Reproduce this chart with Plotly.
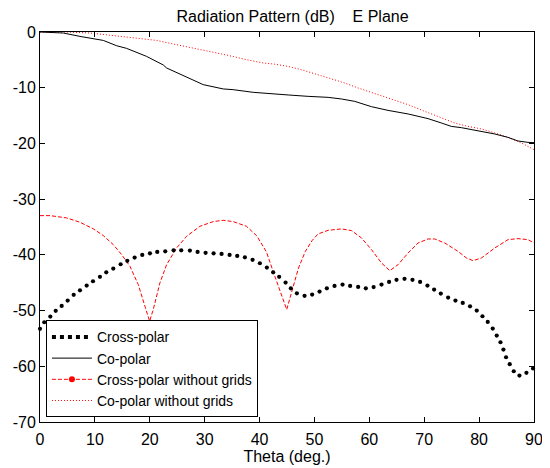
import plotly.graph_objects as go

# ---- data ----
# Cross-polar (black dotted, one value per visible dot)
cross_theta = [0.0, 0.78, 1.88, 2.86, 3.95, 5.04, 6.14, 7.28, 8.50, 9.65, 10.92, 12.07, 13.35, 14.69,
               15.90, 17.24, 18.63, 20.03, 21.36, 22.82, 24.34, 25.73, 27.31, 28.71, 30.17, 31.63,
               33.08, 34.54, 35.93, 37.33, 38.73, 40.06, 41.33, 42.48, 43.57, 44.74, 45.70, 46.80,
               48.20, 49.58, 50.93, 52.26, 53.66, 55.12, 56.50, 57.96, 59.36, 60.78, 62.22, 63.60,
               64.95, 66.41, 67.86, 69.25, 70.59, 71.80, 73.02, 74.35, 75.69, 77.02, 78.35, 79.57,
               80.61, 81.57, 82.48, 83.21, 83.89, 84.43, 84.91, 85.58, 86.31, 87.35, 88.62, 89.82]
cross_db = [-53.28, -52.10, -51.08, -50.05, -49.16, -48.21, -47.18, -46.36, -45.51, -44.74, -43.95,
            -43.13, -42.46, -41.69, -41.08, -40.49, -40.01, -39.72, -39.47, -39.36, -39.18, -39.18,
            -39.24, -39.47, -39.63, -39.72, -39.83, -40.01, -40.19, -40.44, -40.90, -41.51, -42.29,
            -43.13, -43.95, -44.98, -46.00, -46.90, -47.36, -47.13, -46.59, -46.00, -45.57, -45.34,
            -45.57, -45.75, -46.00, -45.78, -45.34, -44.85, -44.49, -44.31, -44.49, -44.85, -45.51,
            -46.23, -46.95, -47.67, -48.21, -48.62, -49.23, -50.00, -51.02, -52.03, -53.23, -54.49,
            -55.69, -57.00, -58.38, -59.63, -60.89, -61.66, -61.18, -60.40]

# Co-polar (black solid)
co_theta = [0, 4.25, 7.28, 11.53, 13.96, 15.78, 19.42, 22.46, 23.07, 26.1, 29.74, 33.38, 35.2, 38.85,
            42.49, 45.21, 48.85, 52.49, 54.92, 57.34, 60.38, 63.41, 67.06, 70.70, 73.12, 74.94,
            76.76, 79.19, 82.83, 85.26, 87.08, 88.90, 90.0]
co_db = [0, -0.18, -0.79, -1.51, -2.46, -2.94, -4.38, -5.92, -6.46, -7.84, -9.45, -10.22, -10.35,
         -10.83, -11.15, -11.30, -11.55, -11.73, -12.02, -12.45, -13.40, -14.07, -14.71, -15.55,
         -16.33, -16.94, -17.17, -17.59, -18.30, -18.91, -19.56, -19.81, -19.86]

# Cross-polar without grids (red dashed)
xng_theta = [0, 1.82, 4.86, 7.28, 9.71, 11.53, 13.35, 14.87, 16.39, 17.90, 19.12, 19.97, 20.63, 21.85,
             23.07, 24.89, 26.71, 29.13, 31.56, 33.38, 35.20, 37.63, 39.50, 41.27, 42.48, 43.70,
             44.95, 45.90, 47.10, 48.35, 49.60, 50.67, 52.49, 54.93, 56.75, 58.57, 60.39, 62.21,
             63.73, 65.24, 67.06, 68.88, 70.70, 71.92, 73.74, 76.16, 77.69, 78.90, 80.42, 82.85,
             85.27, 87.09, 88.91, 90.0]
xng_db = [-32.96, -32.96, -33.37, -34.15, -35.33, -36.54, -38.16, -39.95, -42.05, -45.34, -49.23,
          -51.90, -49.82, -45.03, -41.75, -38.76, -36.67, -34.88, -34.03, -33.80, -34.03, -34.88,
          -36.60, -39.50, -43.00, -46.40, -49.82, -46.50, -42.35, -39.36, -37.40, -36.24, -35.60,
          -35.34, -35.65, -36.96, -39.06, -41.45, -42.84, -41.76, -39.66, -37.87, -37.15, -37.15,
          -37.87, -39.37, -40.56, -41.04, -40.56, -38.77, -37.27, -37.09, -37.27, -37.87]

# Co-polar without grids (red dotted)
cng_theta = [0, 4.86, 9.10, 12.75, 16.99, 21.25, 24.27, 27.91, 30.35, 33.99, 37.64, 40.66, 42.79,
             45.21, 47.64, 50.67, 53.10, 55.52, 57.95, 60.98, 64.02, 67.06, 70.09, 73.12, 75.55,
             77.98, 80.42, 82.85, 85.27, 87.70, 90.0]
cng_db = [0, 0, -0.18, -0.54, -0.97, -1.51, -2.15, -2.87, -3.48, -4.13, -4.97, -5.56, -5.78,
          -6.18, -6.77, -7.66, -8.43, -9.15, -10.05, -11.07, -12.02, -13.04, -14.24, -15.43,
          -16.33, -16.94, -17.40, -18.12, -18.91, -19.91, -21.12]

x_ticks = [0, 10, 20, 30, 40, 50, 60, 70, 80, 90]
x_tick_labels = ["0", "10", "20", "30", "40", "50", "60", "70", "80", "90"]
y_ticks = [0, -10, -20, -30, -40, -50, -60, -70]
y_tick_labels = ["0", "-10", "-20", "-30", "-40", "-50", "-60", "-70"]

names = ["Cross-polar", "Co-polar", "Cross-polar without grids", "Co-polar without grids"]
title_text = "Radiation Pattern (dB)\u00a0\u00a0\u00a0\u00a0E Plane"
x_title = "Theta (deg.)"

FONT = "Liberation Sans, Arial, sans-serif"
RED = "#ff0000"

# the page body adds an 8px offset on the left and top, so the figure is 8px smaller
FIG_W, FIG_H = 542, 460

fig = go.Figure()

# data traces
fig.add_trace(go.Scatter(x=cng_theta, y=cng_db, mode="lines", showlegend=False,
                         line=dict(color=RED, width=1, dash="1px,2px")))
fig.add_trace(go.Scatter(x=xng_theta, y=xng_db, mode="lines", showlegend=False,
                         line=dict(color=RED, width=1, dash="4px,2px")))
fig.add_trace(go.Scatter(x=co_theta, y=co_db, mode="lines", showlegend=False,
                         line=dict(color="black", width=1)))
fig.add_trace(go.Scatter(x=cross_theta, y=cross_db, mode="markers", showlegend=False,
                         cliponaxis=False,
                         marker=dict(color="black", size=4.2, symbol="circle", line=dict(width=0))))

# legend entries
fig.add_trace(go.Scatter(x=[None], y=[None], mode="lines", name=names[0],
                         line=dict(color="black", width=4, dash="4px,4px")))
fig.add_trace(go.Scatter(x=[None], y=[None], mode="lines", name=names[1],
                         line=dict(color="black", width=1)))
fig.add_trace(go.Scatter(x=[None], y=[None], mode="lines+markers", name=names[2],
                         line=dict(color=RED, width=1, dash="4px,2px"),
                         marker=dict(color=RED, size=6)))
fig.add_trace(go.Scatter(x=[None], y=[None], mode="lines", name=names[3],
                         line=dict(color=RED, width=1, dash="1px,2px")))

axis_common = dict(showline=True, linecolor="black", linewidth=1, mirror="allticks",
                   ticks="inside", ticklen=5, tickcolor="black", tickwidth=1,
                   showgrid=False, zeroline=False, automargin=False,
                   tickfont=dict(family=FONT, size=16, color="black"))

fig.update_layout(
    width=FIG_W, height=FIG_H,
    margin=dict(l=32, r=16, t=24, b=45.5, pad=0, autoexpand=False),
    paper_bgcolor="white", plot_bgcolor="white",
    font=dict(family=FONT, size=16, color="black"),
    title=dict(text=title_text, x=0.525, xanchor="center", y=1 - 8 / FIG_H,
               yanchor="middle", yref="container", automargin=False,
               font=dict(family=FONT, size=16, color="black")),
    xaxis=dict(range=[0, 90], tickvals=x_ticks, ticktext=x_tick_labels,
               ticklabelstandoff=3,
               title=dict(text=x_title, standoff=3, font=dict(family=FONT, size=16)),
               **axis_common),
    yaxis=dict(range=[-70, 0], tickvals=y_ticks, ticktext=y_tick_labels, **axis_common),
    legend=dict(x=0.012, y=0.012, xanchor="left", yanchor="bottom",
                bgcolor="white", bordercolor="black", borderwidth=1,
                font=dict(family=FONT, size=14, color="black"),
                itemwidth=40, tracegroupgap=0),
)

fig.write_html("out.html")
